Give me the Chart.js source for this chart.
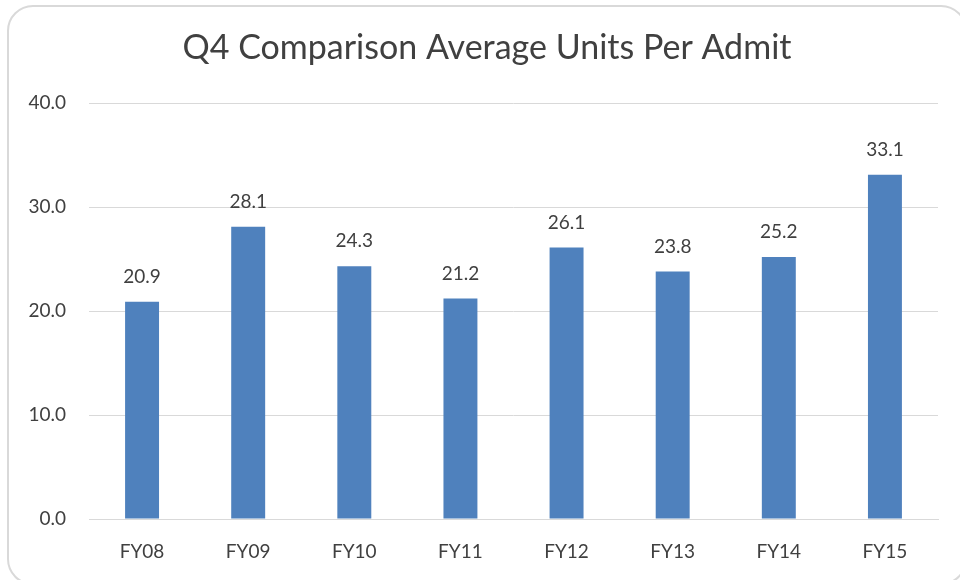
<!DOCTYPE html>
<html>
<head>
<meta charset="utf-8">
<script src="https://cdn.jsdelivr.net/npm/chart.js@4"></script>
<style>
  html, body { margin: 0; padding: 0; background: #fff; overflow: hidden; }
  #wrap { position: relative; width: 960px; height: 580px; overflow: hidden; }
  #frame {
    position: absolute; left: 7px; top: 5px; width: 960px; height: 580px;
    box-sizing: border-box; border: 2px solid #d9d9d9; border-radius: 26px;
  }
  canvas { position: absolute; left: 0; top: 0; }
</style>
</head>
<body>
<div id="wrap">
  <div id="frame"></div>
  <canvas id="chart" width="960" height="580"></canvas>
</div>
<script>
const chartTitle = 'Q4 Comparison Average Units Per Admit';
const years = ['FY08', 'FY09', 'FY10', 'FY11', 'FY12', 'FY13', 'FY14', 'FY15'];
const unitsPerAdmit = [20.9, 28.1, 24.3, 21.2, 26.1, 23.8, 25.2, 33.1];
const yTicks = [0, 10, 20, 30, 40];

const textColor = '#404040';
const fontFamily = 'Lato, "Liberation Sans", sans-serif';

// value labels above each bar
const barLabels = {
  id: 'barLabels',
  afterDatasetsDraw(chart) {
    const ctx = chart.ctx;
    const meta = chart.getDatasetMeta(0);
    ctx.save();
    ctx.font = '19px ' + fontFamily;
    ctx.fillStyle = textColor;
    ctx.textAlign = 'center';
    ctx.textBaseline = 'middle';
    meta.data.forEach((bar, i) => {
      ctx.fillText(unitsPerAdmit[i].toFixed(1), bar.x, bar.y - 25);
    });
    ctx.restore();
  }
};

// title centred on the frame rather than the canvas
const frameTitle = {
  id: 'frameTitle',
  afterDraw(chart) {
    const ctx = chart.ctx;
    ctx.save();
    ctx.font = '34px ' + fontFamily;
    ctx.fillStyle = textColor;
    ctx.textAlign = 'center';
    ctx.textBaseline = 'middle';
    ctx.fillText(chartTitle, 487, 48);
    ctx.restore();
  }
};

new Chart(document.getElementById('chart'), {
  type: 'bar',
  data: {
    labels: years,
    datasets: [{
      data: unitsPerAdmit,
      backgroundColor: '#4f81bd',
      categoryPercentage: 1,
      barPercentage: 0.32
    }]
  },
  options: {
    responsive: false,
    animation: false,
    layout: { padding: { left: 0, right: 22, top: 103, bottom: 0 } },
    plugins: {
      legend: { display: false },
      tooltip: { enabled: false },
      title: { display: false }
    },
    scales: {
      x: {
        afterFit(scale) { scale.height = 61; },
        grid: { display: false, drawTicks: false },
        border: { color: '#d9d9d9', width: 1 },
        ticks: { color: textColor, font: { family: fontFamily, size: 19 }, padding: 21 }
      },
      y: {
        min: 0,
        max: 40,
        afterFit(scale) { scale.width = 89; },
        afterBuildTicks(scale) { scale.ticks = yTicks.map(v => ({ value: v })); },
        grid: { color: '#d9d9d9', drawTicks: false },
        border: { display: false },
        ticks: {
          color: textColor,
          font: { family: fontFamily, size: 19 },
          padding: 23,
          callback: v => v.toFixed(1)
        }
      }
    }
  },
  plugins: [barLabels, frameTitle]
});
</script>
</body>
</html>
